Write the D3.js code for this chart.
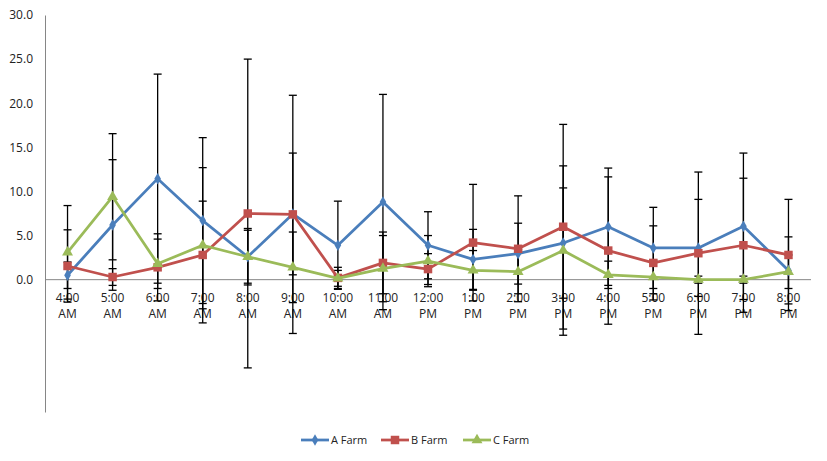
<!DOCTYPE html>
<html>
<head>
<meta charset="utf-8">
<script src="https://cdn.jsdelivr.net/npm/d3@7"></script>
<style>
  body { margin: 0; background: #fff; }
  svg { display: block; font-family: 'Open Sans', sans-serif; }
</style>
</head>
<body>
<script>
'use strict';

// hour labels (two lines each)
const hours = ['4:00', '5:00', '6:00', '7:00', '8:00', '9:00', '10:00', '11:00', '12:00',
  '1:00', '2:00', '3:00', '4:00', '5:00', '6:00', '7:00', '8:00'];
const periods = ['AM', 'AM', 'AM', 'AM', 'AM', 'AM', 'AM', 'AM', 'PM',
  'PM', 'PM', 'PM', 'PM', 'PM', 'PM', 'PM', 'PM'];

const seriesNames = ['A Farm', 'B Farm', 'C Farm'];

const farmA = [0.5, 6.2, 11.45, 6.7, 2.6, 7.45, 3.9, 8.8, 3.9, 2.3, 2.95, 4.15, 6.0, 3.6, 3.6, 6.05, 1.05];
const farmB = [1.55, 0.3, 1.4, 2.8, 7.5, 7.4, 0.2, 1.9, 1.2, 4.2, 3.5, 6.0, 3.3, 1.9, 3.0, 3.9, 2.8];
const farmC = [3.1, 9.4, 1.8, 3.9, 2.6, 1.4, 0.15, 1.25, 2.1, 1.05, 0.9, 3.3, 0.55, 0.3, 0.0, 0.0, 0.9];

// error bar sizes (+/-)
const errA = [1.5, 7.4, 11.85, 9.4, 3.2, 6.9, 5.0, 12.2, 3.8, 3.4, 3.45, 6.25, 6.65, 4.6, 5.5, 8.3, 3.8];
const errB = [4.1, 0.95, 3.8, 6.1, 17.5, 13.5, 1.2, 3.5, 1.75, 6.6, 6.0, 11.6, 8.35, 4.2, 9.2, 7.6, 6.3];
const errC = [5.3, 7.15, 2.8, 8.8, 3.0, 4.0, 0.9, 3.75, 2.9, 2.25, 2.5, 9.6, 1.55, 1.9, 0.4, 0.4, 1.9];

const yTicks = [0, 5, 10, 15, 20, 25, 30];

(function() {

const width = 827, height = 461;
const colors = ['#4a7ebb', '#c0504d', '#9bbb59'];
const shapes = [d3.symbolDiamond, d3.symbolSquare, d3.symbolTriangle];
const sizes = [38, 72, 52];

const series = [farmA, farmB, farmC].map(function(vals, s) {
  const errs = [errA, errB, errC][s];
  return vals.map(function(v, i) { return { i: i, v: v, e: errs[i] }; });
});

let svg = d3.select('body').append('svg')
    .attr('width', width)
    .attr('height', height);

let x = d3.scaleBand().domain(d3.range(hours.length)).range([45, 811]);
let y = d3.scaleLinear().domain([-15, 30]).range([412, 15]);
const cx = function(i) { return x(i) + x.bandwidth() / 2; };

// Y axis
let yAxis = svg.append('g')
    .attr('transform', 'translate(45,0)')
    .call(d3.axisLeft(y).tickValues(yTicks).tickSize(0).tickPadding(12)
      .tickFormat(d3.format('.1f')));
yAxis.select('.domain').attr('stroke', '#868686');
yAxis.selectAll('text')
    .attr('font-family', "'Open Sans', sans-serif")
    .attr('font-size', 12)
    .attr('fill', '#222');

// zero line
svg.append('line')
    .attr('x1', 45).attr('x2', 811)
    .attr('y1', y(0)).attr('y2', y(0))
    .attr('stroke', '#868686');

// X labels
let xl = svg.append('g').selectAll('text')
    .data(hours).enter().append('text')
    .attr('x', function(d, i) { return cx(i); })
    .attr('y', y(0) + 22)
    .attr('text-anchor', 'middle')
    .attr('font-size', 12)
    .attr('fill', '#222');
xl.append('tspan').text(function(d) { return d; });
xl.append('tspan')
    .attr('x', function(d, i) { return cx(i); })
    .attr('dy', 16)
    .text(function(d, i) { return periods[i]; });

// error bars
series.forEach(function(data) {
  let g = svg.append('g').attr('stroke', '#000').attr('stroke-width', 1.3);
  g.selectAll('line.bar').data(data).enter().append('line')
      .attr('x1', function(d) { return cx(d.i); })
      .attr('x2', function(d) { return cx(d.i); })
      .attr('y1', function(d) { return y(d.v + d.e); })
      .attr('y2', function(d) { return y(d.v - d.e); });
  [1, -1].forEach(function(sign) {
    g.selectAll('line.cap' + sign).data(data).enter().append('line')
        .attr('x1', function(d) { return cx(d.i) - 4; })
        .attr('x2', function(d) { return cx(d.i) + 4; })
        .attr('y1', function(d) { return y(d.v + sign * d.e); })
        .attr('y2', function(d) { return y(d.v + sign * d.e); });
  });
});

// lines + markers
let line = d3.line()
    .x(function(d) { return cx(d.i); })
    .y(function(d) { return y(d.v); });

series.forEach(function(data, s) {
  svg.append('path')
      .datum(data)
      .attr('fill', 'none')
      .attr('stroke', colors[s])
      .attr('stroke-width', 2.75)
      .attr('stroke-linejoin', 'round')
      .attr('d', line);
  svg.append('g').selectAll('path')
      .data(data).enter().append('path')
      .attr('transform', function(d) { return 'translate(' + cx(d.i) + ',' + y(d.v) + ')'; })
      .attr('d', d3.symbol().type(shapes[s]).size(sizes[s]))
      .attr('fill', colors[s]);
});

// legend
const legendX = [301, 381, 463];
let lg = svg.append('g').selectAll('g')
    .data(seriesNames).enter().append('g')
    .attr('transform', function(d, i) { return 'translate(' + legendX[i] + ',440)'; });
lg.append('line')
    .attr('x1', 0).attr('x2', 28)
    .attr('stroke', function(d, i) { return colors[i]; })
    .attr('stroke-width', 2.75);
lg.append('path')
    .attr('transform', 'translate(14,0)')
    .attr('d', function(d, i) { return d3.symbol().type(shapes[i]).size(sizes[i])(); })
    .attr('fill', function(d, i) { return colors[i]; });
lg.append('text')
    .attr('x', 30)
    .attr('dy', '0.35em')
    .attr('font-size', 11)
    .attr('fill', '#222')
    .text(function(d) { return d; });

})();
</script>
</body>
</html>
